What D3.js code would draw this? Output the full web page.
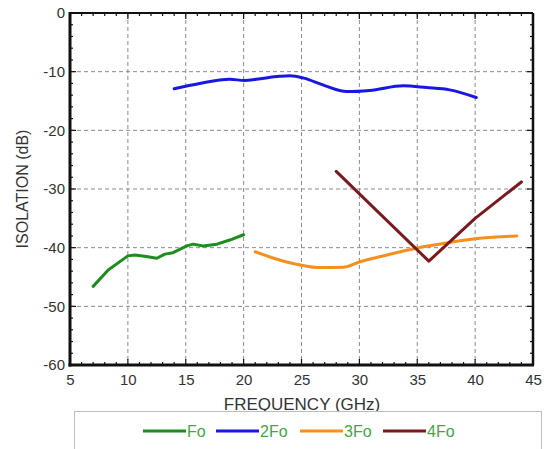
<!DOCTYPE html>
<meta charset="utf-8">
<style>
body { margin: 0; background: #fff; }
svg { font-family: "Liberation Sans", Arial, sans-serif; }
.grid line { stroke: #8a8a8a; stroke-dasharray: 4,3; stroke-width: 1; }
.series { fill: none; stroke-width: 3px; stroke-linejoin: round; stroke-linecap: round; }
</style>
<div id="chart"></div>
<script src="https://d3js.org/d3.v7.min.js"></script>
<script>
// series: [GHz, dB]
var foData = [[7.0,-46.6],[8.3,-43.8],[10.0,-41.4],[10.6,-41.25],[11.6,-41.5],[12.5,-41.8],[13.2,-41.1],[13.9,-40.85],[15.1,-39.7],[15.65,-39.4],[16.5,-39.7],[17.7,-39.4],[18.8,-38.7],[20.0,-37.8]];
var twoFoData = [[14.0,-12.9],[16.2,-12.0],[18.8,-11.3],[20.1,-11.5],[21.1,-11.3],[23.1,-10.8],[24.0,-10.7],[25.2,-11.1],[26.9,-12.3],[28.9,-13.4],[30.9,-13.2],[33.8,-12.4],[35.8,-12.7],[37.8,-13.1],[40.1,-14.4]];
var threeFoData = [[21.0,-40.7],[22.6,-41.8],[24.9,-42.95],[26.6,-43.4],[28.6,-43.35],[30.05,-42.4],[32.4,-41.25],[34.9,-40.1],[37.5,-39.2],[40.4,-38.4],[43.6,-38.0]];
var fourFoData = [[28.0,-27.0],[36.0,-42.3],[40.0,-35.0],[44.0,-28.8]];

var seriesNames = ["Fo", "2Fo", "3Fo", "4Fo"];
var seriesColors = ["#1f8c1f", "#1818e0", "#f5901e", "#7a1a1f"];
var xTicks = [5, 10, 15, 20, 25, 30, 35, 40, 45];
var yTicks = [0, -10, -20, -30, -40, -50, -60];

var width = 546, height = 449;
var margin = {top: 13, right: 13, bottom: 84, left: 70};
var w = width - margin.left - margin.right,
    h = height - margin.top - margin.bottom;

var x = d3.scaleLinear().domain([5, 45]).range([0, w]);
var y = d3.scaleLinear().domain([-60, 0]).range([h, 0]);

var svg = d3.select("#chart").append("svg")
    .attr("width", width)
    .attr("height", height);
var g = svg.append("g")
    .attr("transform", "translate(" + margin.left + "," + margin.top + ")");

// grid
var grid = g.append("g").attr("class", "grid");
grid.selectAll(".gx").data(xTicks.slice(1, -1)).enter().append("line")
    .attr("x1", function(d) { return x(d); }).attr("x2", function(d) { return x(d); })
    .attr("y1", 0).attr("y2", h);
grid.selectAll(".gy").data(yTicks.slice(1, -1)).enter().append("line")
    .attr("y1", function(d) { return y(d); }).attr("y2", function(d) { return y(d); })
    .attr("x1", 0).attr("x2", w);

// minor ticks, inside the frame
var minorX = d3.range(5, 46, 1), minorY = d3.range(-60, 1, 2);
g.append("g").selectAll("line").data(minorX).enter().append("line")
    .attr("x1", function(d) { return x(d); }).attr("x2", function(d) { return x(d); })
    .attr("y1", h).attr("y2", function(d) { return d % 5 === 0 ? h - 6 : h - 3; })
    .attr("stroke", "#111").attr("stroke-width", 1.2);
g.append("g").selectAll("line").data(minorX).enter().append("line")
    .attr("x1", function(d) { return x(d); }).attr("x2", function(d) { return x(d); })
    .attr("y1", 0).attr("y2", function(d) { return d % 5 === 0 ? 6 : 3; })
    .attr("stroke", "#111").attr("stroke-width", 1.2);
g.append("g").selectAll("line").data(minorY).enter().append("line")
    .attr("y1", function(d) { return y(d); }).attr("y2", function(d) { return y(d); })
    .attr("x1", 0).attr("x2", function(d) { return d % 10 === 0 ? 6 : 3; })
    .attr("stroke", "#111").attr("stroke-width", 1.2);
g.append("g").selectAll("line").data(minorY).enter().append("line")
    .attr("y1", function(d) { return y(d); }).attr("y2", function(d) { return y(d); })
    .attr("x1", w).attr("x2", function(d) { return d % 10 === 0 ? w - 6 : w - 3; })
    .attr("stroke", "#111").attr("stroke-width", 1.2);

// frame
g.append("line").attr("x1", 0).attr("x2", w).attr("y1", 0).attr("y2", 0)
    .attr("stroke", "#111").attr("stroke-width", 2);
g.append("line").attr("x1", w).attr("x2", w).attr("y1", 0).attr("y2", h)
    .attr("stroke", "#111").attr("stroke-width", 2.5);
g.append("line").attr("x1", 0).attr("x2", 0).attr("y1", -1).attr("y2", h + 1.5)
    .attr("stroke", "#111").attr("stroke-width", 3);
g.append("line").attr("x1", -1.5).attr("x2", w + 1).attr("y1", h).attr("y2", h)
    .attr("stroke", "#111").attr("stroke-width", 3);

// tick labels via d3 axes (lines hidden), plain hyphen minus
var fmt = function(d) { return String(d); };
var xAxis = g.append("g")
    .attr("transform", "translate(0," + h + ")")
    .call(d3.axisBottom(x).tickValues(xTicks).tickFormat(fmt).tickSize(0).tickPadding(9));
var yAxis = g.append("g")
    .call(d3.axisLeft(y).tickValues(yTicks).tickFormat(fmt).tickSize(0).tickPadding(5));
[xAxis, yAxis].forEach(function(a) {
  a.select(".domain").remove();
  a.selectAll("text")
    .style("font-size", "15px").style("fill", "#333")
    .attr("font-family", null);
});

// series
var line = d3.line().x(function(d) { return x(d[0]); }).y(function(d) { return y(d[1]); });
var smooth = d3.line().x(function(d) { return x(d[0]); }).y(function(d) { return y(d[1]); })
    .curve(d3.curveMonotoneX);
var allSeries = [
  {data: foData, gen: line},
  {data: twoFoData, gen: smooth},
  {data: threeFoData, gen: smooth},
  {data: fourFoData, gen: line}
];
allSeries.forEach(function(s, i) {
  g.append("path").datum(s.data)
    .attr("class", "series")
    .attr("stroke", seriesColors[i])
    .attr("d", s.gen);
});

// titles
svg.append("text")
    .attr("text-anchor", "middle")
    .attr("transform", "translate(28," + (margin.top + y(-30)) + ")rotate(-90)")
    .style("font-size", "16px").style("fill", "#333")
    .text("ISOLATION (dB)");
svg.append("text")
    .attr("text-anchor", "middle")
    .attr("x", 302).attr("y", 410)
    .style("font-size", "17px").style("fill", "#333")
    .text("FREQUENCY (GHz)");

// legend
var legend = svg.append("g");
legend.append("rect")
    .attr("x", 74.5).attr("y", 411.5).attr("width", 467).attr("height", 60)
    .attr("fill", "#fff").attr("stroke", "#bdbdbd");
var legX = [143, 216, 300, 383];
seriesNames.forEach(function(name, i) {
  legend.append("line")
    .attr("x1", legX[i]).attr("x2", legX[i] + 43)
    .attr("y1", 431).attr("y2", 431)
    .attr("stroke", seriesColors[i]).attr("stroke-width", 3);
  legend.append("text")
    .attr("x", legX[i] + 44).attr("y", 437)
    .style("font-size", "16px").style("fill", "#3fa83f")
    .text(name);
});
</script>
